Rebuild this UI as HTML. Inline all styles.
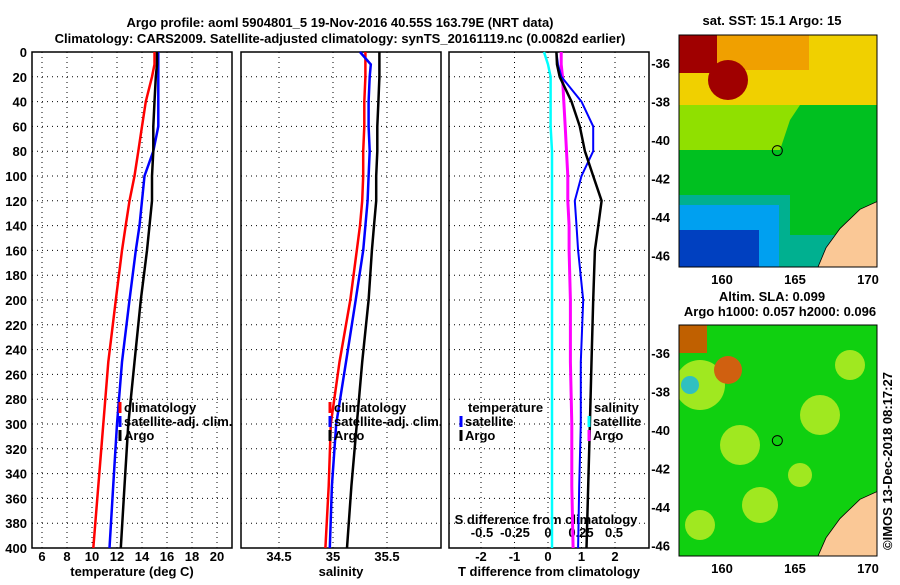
<!DOCTYPE html>
<html><head><meta charset="utf-8"><style>
body{margin:0;background:#fff;}
svg text{font-family:"Liberation Sans",sans-serif;font-weight:bold;font-size:13px;fill:#000;}
</style></head><body>
<svg id="c" width="900" height="580" viewBox="0 0 900 580" xmlns="http://www.w3.org/2000/svg">
<text x="340" y="27" text-anchor="middle" font-size="14">Argo profile: aoml 5904801_5 19-Nov-2016 40.55S 163.79E (NRT data)</text>
<text x="340" y="43" text-anchor="middle" font-size="14">Climatology: CARS2009. Satellite-adjusted climatology: synTS_20161119.nc (0.0082d earlier)</text>
<g id="maps"></g>
<g id="panels"></g>
<text transform="translate(892,550) rotate(-90)" font-weight="normal" font-size="12">©IMOS 13-Dec-2018 08:17:27</text>
</svg>
<script>
// depths (m)
const depths=[0,10,20,40,60,80,100,120,140,160,200,250,300,350,400];
// temperature (deg C)
const tArgo=[15.2,15.2,15.1,15.0,14.9,14.9,14.8,14.8,14.6,14.4,13.9,13.4,12.9,12.6,12.3];
const tClim=[15.0,15.0,14.8,14.3,14.0,13.7,13.4,13.0,12.7,12.4,11.9,11.3,10.9,10.5,10.1];
const tSat=[15.3,15.3,15.3,15.3,15.3,14.9,14.2,14.0,13.8,13.5,13.0,12.4,12.0,11.7,11.4];
// salinity
const sArgo=[35.43,35.43,35.43,35.42,35.41,35.41,35.40,35.40,35.38,35.36,35.33,35.27,35.22,35.17,35.13];
const sClim=[35.30,35.30,35.30,35.29,35.29,35.28,35.28,35.27,35.25,35.22,35.16,35.06,34.98,34.96,34.93];
const sSat=[35.25,35.35,35.34,35.33,35.33,35.34,35.33,35.32,35.30,35.28,35.21,35.12,35.03,34.99,34.97];
// differences
const dTArgo=[0.25,0.27,0.35,0.7,0.95,1.1,1.35,1.6,1.5,1.4,1.35,1.3,1.25,1.2,1.15];
const dTSat=[0.25,0.3,0.4,1.0,1.35,1.35,1.0,0.8,0.85,0.9,1.05,0.98,0.98,0.93,0.9];
const dSArgo=[0.1,0.1,0.11,0.12,0.13,0.14,0.15,0.15,0.16,0.16,0.17,0.17,0.18,0.18,0.19];
const dSSat=[-0.03,0.0,0.02,0.02,0.02,0.03,0.03,0.03,0.03,0.03,0.03,0.03,0.03,0.03,0.03];
const depthTicks=[0,20,40,60,80,100,120,140,160,180,200,220,240,260,280,300,320,340,360,380,400];
const tTicks=[6,8,10,12,14,16,18,20];
const sTicks=[34.5,35,35.5];
const dTTicks=[-2,-1,0,1,2];
const dSTicks=[-0.5,-0.25,0,0.25,0.5];
const latTicks=[-36,-38,-40,-42,-44,-46];
const lonTicks=[160,165,170];

const NS='http://www.w3.org/2000/svg';
const P=document.getElementById('panels');
function mk(tag,at,par){const e=document.createElementNS(NS,tag);for(const k in at)e.setAttribute(k,at[k]);(par||P).appendChild(e);return e;}
const y=d=>52+d*1.24;
const xT=v=>42+(v-6)*12.5, xS=v=>333+(v-35)*108, xDT=v=>548+v*33.5, xDS=v=>548+v*132;
const boxes=[[32,232],[241,441],[449,649]];
boxes.forEach((b,i)=>{
 const r=mk('rect',{x:b[0],y:52,width:b[1]-b[0],height:496,fill:'none',stroke:'#000','stroke-width':1.5});
 
 
 depthTicks.forEach(d=>{
  if(d>0&&d<400){const g=mk('line',{x1:b[0],x2:b[1],y1:y(d),y2:y(d),stroke:'#000','stroke-dasharray':'1 4'});
  
  }
 });
});
depthTicks.forEach(d=>{const t=mk('text',{x:27,y:y(d)+5,'text-anchor':'end'});t.textContent=d;
 
 });
function vgrid(ticks,fx,b,lab,ly){ticks.forEach(v=>{const x=fx(v);
 const g=mk('line',{x1:x,x2:x,y1:52,y2:548,stroke:'#000','stroke-dasharray':'1 4'});
 
 
 if(lab){const t=mk('text',{x:x,y:ly,'text-anchor':'middle'});t.textContent=v;
 
 }});}
vgrid(tTicks,xT,boxes[0],1,561);
vgrid(sTicks,xS,boxes[1],1,561);
vgrid(dTTicks,xDT,boxes[2],1,561);
dSTicks.forEach(v=>{const t=mk('text',{x:xDS(v),y:537,'text-anchor':'middle'});t.textContent=v;
 
 });
[['temperature (deg C)',132],['salinity',341],['T difference from climatology',549]].forEach(a=>{
 const t=mk('text',{x:a[1],y:576,'text-anchor':'middle'});t.textContent=a[0];
 
 });
const st=mk('text',{x:546,y:524,'text-anchor':'middle'});st.textContent='S difference from climatology';


function line(vals,fx,col,w,name){const pts=vals.map((v,i)=>fx(v).toFixed(1)+','+y(depths[i]).toFixed(1)).join(' ');
 const l=mk('polyline',{points:pts,fill:'none',stroke:col,'stroke-width':w});
 
 }
line(tClim,xT,'#f00',2.5,'temp-climatology-line');line(tSat,xT,'#00f',2.5,'temp-satellite-line');line(tArgo,xT,'#000',2.5,'temp-argo-line');
line(sClim,xS,'#f00',2.5,'sal-climatology-line');line(sSat,xS,'#00f',2.5,'sal-satellite-line');line(sArgo,xS,'#000',2.5,'sal-argo-line');
line(dSSat,xDS,'#0ff',2.5,'sdiff-satellite-line');line(dSArgo,xDS,'#f0f',3,'sdiff-argo-line');
line(dTSat,xDT,'#00f',2,'tdiff-satellite-line');line(dTArgo,xDT,'#000',2.5,'tdiff-argo-line');
function leg(x,yy,col,txt){const l=mk('line',{x1:x,x2:x,y1:yy-10,y2:yy+1,stroke:col,'stroke-width':3});
 
 
 const t=mk('text',{x:x+4,y:yy});t.textContent=txt;
 
 }
leg(120,412,'#f00','climatology');leg(120,426,'#00f','satellite-adj. clim.');leg(120,440,'#000','Argo');
leg(330,412,'#f00','climatology');leg(330,426,'#00f','satellite-adj. clim.');leg(330,440,'#000','Argo');
const tt=mk('text',{x:468,y:412});tt.textContent='temperature';
leg(461,426,'#00f','satellite');leg(461,440,'#000','Argo');
const ts=mk('text',{x:594,y:412});ts.textContent='salinity';
leg(589,426,'#0ff','satellite');leg(589,440,'#f0f','Argo');

// maps
const M=document.getElementById('maps');
function mm(tag,at){return mk(tag,at,M);}
function map(top,bot,lat36,kind){
 const x0=679,x1=877,py=(bot-top);
 const ly=l=>lat36+(-36-l)*19.25, lx=l=>722+(l-160)*14.6;
 const g=mm('g',{});
 
 
 const cl=document.createElementNS(NS,'clipPath');cl.id='cl'+kind;const cr=document.createElementNS(NS,'rect');
 cr.setAttribute('x',x0);cr.setAttribute('y',top);cr.setAttribute('width',x1-x0);cr.setAttribute('height',py);cl.appendChild(cr);M.appendChild(cl);
 const gg=mk('g',{'clip-path':'url(#cl'+kind+')'},M);
 if(kind==='sst'){
  mk('rect',{x:x0,y:top,width:198,height:py,fill:'#00c020'},gg);
  mk('rect',{x:x0,y:top,width:198,height:70,fill:'#f0d000'},gg);
  mk('path',{d:`M${x0} ${top+70} L800 ${top+70} L805 ${top+55} L830 ${top+55} L877 ${top+60} L877 ${top} Z`,fill:'#f0d000'},gg);
  mk('path',{d:`M${x0} ${top+70} L${x0} ${top+115} L780 ${top+115} L790 ${top+85} L800 ${top+70} Z`,fill:'#90e000'},gg);
  mk('rect',{x:x0,y:top,width:130,height:35,fill:'#f0a000'},gg);
  mk('rect',{x:x0,y:top,width:38,height:38,fill:'#a00000'},gg);
  mk('circle',{cx:728,cy:top+45,r:20,fill:'#a00000'},gg);
  mk('rect',{x:x0,y:top+160,width:198,height:80,fill:'#00b090'},gg);
  mk('rect',{x:x0,y:top+170,width:100,height:80,fill:'#00a0f0'},gg);
  mk('rect',{x:x0,y:top+195,width:80,height:50,fill:'#0040c0'},gg);
  mk('rect',{x:790,y:top+150,width:90,height:50,fill:'#00c020'},gg);
 } else {
  mk('rect',{x:x0,y:top,width:198,height:py,fill:'#10d010'},gg);
  [[700,60,25],[740,120,20],[760,180,18],[820,90,20],[700,200,15],[850,40,15],[800,150,12]].forEach(b=>mk('circle',{cx:b[0],cy:top+b[1],r:b[2],fill:'#a0e820'},gg));
  mk('rect',{x:x0,y:top,width:28,height:28,fill:'#c06000'},gg);
  mk('circle',{cx:728,cy:top+45,r:14,fill:'#d06010'},gg);
  mk('circle',{cx:690,cy:top+60,r:9,fill:'#30c0c0'},gg);
 }
 const land=mk('path',{d:`M877 ${ly(-43.2)} L860 ${ly(-43.6)} L840 ${ly(-44.6)} L826 ${ly(-45.6)} L818 ${bot} L877 ${bot} Z`,fill:'#fac896',stroke:'#000','stroke-width':0.8},gg);
 
 
 const f=mm('rect',{x:x0,y:top,width:198,height:py,fill:'none',stroke:'#000','stroke-width':1});
 
 
 const pt=mm('circle',{cx:lx(163.79),cy:ly(-40.55),r:5,fill:'none',stroke:'#000','stroke-width':1});
 
 
 latTicks.forEach(l=>{const t=mm('text',{x:x0-9,y:ly(l)+5,'text-anchor':'end'});t.textContent=l;
  
  });
 lonTicks.forEach(l=>{const t=mm('text',{x:lx(l),y:bot+17,'text-anchor':'middle'});t.textContent=l;
  
  });
}
map(35,267,63,'sst');
map(325,556,353,'sla');
[['sat. SST: 15.1 Argo: 15',772,25],['Altim. SLA: 0.099',772,301],['Argo h1000: 0.057 h2000: 0.096',780,316]].forEach(a=>{
 const t=mm('text',{x:a[1],y:a[2],'text-anchor':'middle','font-size':12});t.textContent=a[0];
 
 });
</script>
</body></html>
